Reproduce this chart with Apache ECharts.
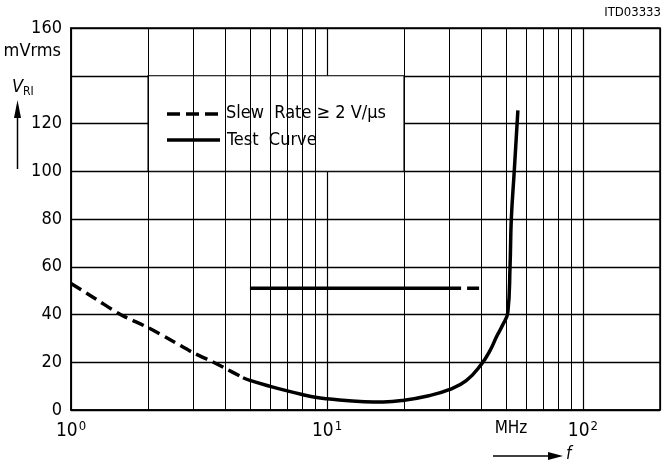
<!DOCTYPE html>
<html>
<head>
<meta charset="utf-8">
<script src="https://cdn.jsdelivr.net/npm/echarts@6/dist/echarts.min.js"></script>
<style>
  html, body { margin: 0; padding: 0; background: #fff; }
  #chart { width: 663px; height: 462px; }
</style>
</head>
<body>
<div id="chart"></div>
<script>
const FONT = "'Liberation Sans Narrow', 'DejaVu Sans Condensed', 'Liberation Sans', sans-serif";

// Axes: frequency in MHz (log), ripple voltage in mV rms
const xMin = 1, xMax = 200;
const yMin = 0, yMax = 160, yStep = 20;
const minorGridFreqs = [2, 3, 4, 5, 6, 7, 8, 9, 20, 30, 40, 50, 60, 70, 80, 90];

// Legend panel spans these data ranges
const legendBoxFreq = [2, 20];
const legendBoxVolt = [100, 140];

// Ripple limit curves [f (MHz), V_RI (mVrms)]
const slewRateLow = [[1, 53], [1.25, 46.5], [1.56, 40], [2, 34.5], [2.5, 28.8], [3, 24], [3.6, 20], [4, 17.5], [4.7, 13.5]];
const testCurve = [[4.7, 13.5], [5, 12.4], [6, 9.9], [7, 8], [8, 6.5], [9, 5.3], [10, 4.7], [14, 3.5], [16.6, 3.4], [20, 4.1], [25, 6], [30, 8.5], [35, 12.3], [40, 19], [43.4, 25], [46, 30.8], [48.5, 35.5], [50.9, 41], [51.9, 60], [52.5, 80], [53.9, 100], [55.7, 125.5]];
const testFlat = [[5, 51], [30, 51]];
const slewRateFlat = [[30, 51], [40, 51]];

const chart = echarts.init(document.getElementById('chart'), null, { renderer: 'canvas' });

const DASH = [12, 6];
const curveStyle = (dashed) => ({ color: '#000', width: 3.5, type: dashed ? DASH : 'solid', cap: 'butt' });

function curve(data, dashed, smooth) {
  return {
    type: 'line', data: data, showSymbol: false, silent: true, z: 5,
    smooth: smooth,
    lineStyle: curveStyle(dashed)
  };
}

const option = {
  animation: false,
  backgroundColor: '#fff',
  grid: { left: 71, right: 3, top: 28, bottom: 52, show: true, borderColor: '#000', borderWidth: 1.5, backgroundColor: 'transparent' },
  xAxis: {
    type: 'log', logBase: 10, min: xMin, max: xMax,
    axisLine: { lineStyle: { color: '#000', width: 1.5 } },
    axisTick: { show: false },
    splitLine: { show: true, lineStyle: { color: '#000', width: 1.2 } },
    axisLabel: {
      color: '#000', margin: 10, fontFamily: FONT,
      formatter: function (v) {
        const p = Math.log10(v);
        if (Math.abs(p - Math.round(p)) > 1e-6) return '';
        return '{b|10}{s|' + Math.round(p) + '}';
      },
      rich: {
        b: { fontSize: 19, fontFamily: FONT, color: '#000' },
        s: { fontSize: 13, fontFamily: FONT, color: '#000', padding: [0, 0, 10, 1] }
      }
    }
  },
  yAxis: {
    type: 'value', min: yMin, max: yMax, interval: yStep,
    axisLine: { show: true, lineStyle: { color: '#000', width: 1.5 } },
    axisTick: { show: false },
    splitLine: { show: true, lineStyle: { color: '#000', width: 1.3 } },
    axisLabel: {
      color: '#000', fontSize: 18, fontFamily: FONT, margin: 9,
      formatter: (v) => (v === 140 ? '' : String(v))
    }
  },
  series: [
    {
      // intermediate decade grid lines
      type: 'line', data: [], silent: true, z: 1,
      markLine: {
        silent: true, symbol: ['none', 'none'], animation: false,
        label: { show: false },
        lineStyle: { color: '#000', width: 1, type: 'solid' },
        data: minorGridFreqs.map(f => ({ xAxis: f }))
      }
    },
    {
      // legend panel
      type: 'line', data: [], silent: true, z: 2,
      markArea: {
        silent: true, animation: false,
        itemStyle: { color: '#fff', borderColor: '#000', borderWidth: 1.2 },
        data: [[{ coord: [legendBoxFreq[0], legendBoxVolt[1]] }, { coord: [legendBoxFreq[1], legendBoxVolt[0]] }]]
      }
    },
    curve(slewRateLow, true, 0.3),
    curve(testCurve, false, 0.45),
    curve(testFlat, false, false),
    curve(slewRateFlat, true, false)
  ],
  graphic: [
    { type: 'text', right: 2, top: 6, style: { text: 'ITD03333', font: '13px ' + FONT, fill: '#000' } },
    { type: 'text', x: 61, y: 51, style: { text: 'mVrms', font: '18px ' + FONT, fill: '#000', align: 'right', verticalAlign: 'middle' } },
    {
      type: 'text', x: 12, y: 76,
      style: {
        text: '{v|V}{s|RI}', fill: '#000',
        rich: {
          v: { font: 'italic 18px ' + FONT, fill: '#000' },
          s: { font: '12px ' + FONT, fill: '#000', padding: [10, 0, 0, 0] }
        }
      }
    },
    { type: 'line', shape: { x1: 17.5, y1: 169, x2: 17.5, y2: 112 }, style: { stroke: '#000', lineWidth: 1.5 } },
    { type: 'polygon', shape: { points: [[17.5, 100], [14, 118], [21, 118]] }, style: { fill: '#000' } },
    { type: 'text', x: 511, y: 429, style: { text: 'MHz', font: '17px ' + FONT, fill: '#000', align: 'center', verticalAlign: 'middle' } },
    { type: 'line', shape: { x1: 493, y1: 456, x2: 552, y2: 456 }, style: { stroke: '#000', lineWidth: 1.5 } },
    { type: 'polygon', shape: { points: [[563, 456], [548, 452], [548, 460]] }, style: { fill: '#000' } },
    { type: 'text', x: 566, y: 455, style: { text: 'f', font: 'italic 17px ' + FONT, fill: '#000', verticalAlign: 'middle' } },
    // legend entries
    { type: 'line', z: 10, shape: { x1: 167, y1: 114, x2: 220, y2: 114 }, style: { stroke: '#000', lineWidth: 3.5, lineDash: [13, 6] } },
    { type: 'text', z: 10, x: 226, y: 113, style: { text: 'Slew  Rate \u2265 2 V/\u00b5s', font: '18px ' + FONT, fill: '#000', verticalAlign: 'middle' } },
    { type: 'line', z: 10, shape: { x1: 167, y1: 140, x2: 220, y2: 140 }, style: { stroke: '#000', lineWidth: 3.5 } },
    { type: 'text', z: 10, x: 227, y: 140, style: { text: 'Test  Curve', font: '18px ' + FONT, fill: '#000', verticalAlign: 'middle' } }
  ]
};

chart.setOption(option);
</script>
</body>
</html>
